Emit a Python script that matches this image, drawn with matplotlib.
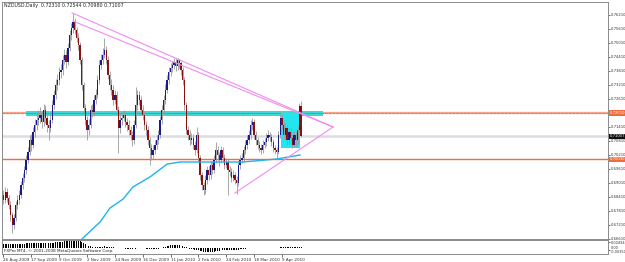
import matplotlib.pyplot as plt
from matplotlib.patches import Rectangle
from matplotlib.transforms import blended_transform_factory

# NZDUSD daily candles (bar index = trading day from 26 Aug 2009)
first_open = 0.6850
close = [0.6828, 0.6862, 0.6837, 0.6807, 0.6764, 0.6721, 0.6751, 0.6807, 0.6828, 0.6850,
         0.6892, 0.6922, 0.6957, 0.7000, 0.7034, 0.7085, 0.7064, 0.7120, 0.7150, 0.7171,
         0.7180, 0.7192, 0.7162, 0.7214, 0.7180, 0.7150, 0.7137, 0.7171, 0.7235, 0.7278,
         0.7321, 0.7342, 0.7377, 0.7385, 0.7428, 0.7450, 0.7420, 0.7480, 0.7535, 0.7565,
         0.7591, 0.7557, 0.7522, 0.7492, 0.7428, 0.7321, 0.7222, 0.7171, 0.7128, 0.7150,
         0.7214, 0.7205, 0.7257, 0.7278, 0.7342, 0.7407, 0.7428, 0.7450, 0.7471, 0.7428,
         0.7364, 0.7321, 0.7300, 0.7257, 0.7278, 0.7214, 0.7137, 0.7171, 0.7180, 0.7192,
         0.7162, 0.7150, 0.7128, 0.7107, 0.7085, 0.7150, 0.7235, 0.7278, 0.7257, 0.7214,
         0.7192, 0.7150, 0.7128, 0.7085, 0.7051, 0.7021, 0.7042, 0.7064, 0.7085, 0.7107,
         0.7171, 0.7214, 0.7257, 0.7300, 0.7342, 0.7377, 0.7394, 0.7407, 0.7420, 0.7402,
         0.7428, 0.7415, 0.7385, 0.7342, 0.7235, 0.7128, 0.7107, 0.7085, 0.7094, 0.7064,
         0.7042, 0.7107, 0.7008, 0.6935, 0.6892, 0.6871, 0.6914, 0.6957, 0.6935, 0.6978,
         0.6957, 0.7000, 0.7042, 0.7021, 0.7000, 0.7042, 0.7008, 0.6978, 0.6991, 0.6957,
         0.6948, 0.6922, 0.6935, 0.6914, 0.6901, 0.6978, 0.7000, 0.7008, 0.7042, 0.7064,
         0.7085, 0.7107, 0.7150, 0.7162, 0.7107, 0.7085, 0.7064, 0.7051, 0.7042, 0.7064,
         0.7077, 0.7094, 0.7107, 0.7098, 0.7077, 0.7051, 0.7042, 0.7034, 0.7107, 0.7180,
         0.7150, 0.7107, 0.7137, 0.7085, 0.7120, 0.7094, 0.7064, 0.7107, 0.7085, 0.7128,
         0.7231, 0.71007]
high = [0.6872, 0.6885, 0.6880, 0.6850, 0.6822, 0.6775, 0.6770, 0.6825, 0.6850, 0.6872,
        0.6910, 0.6945, 0.6975, 0.7020, 0.7055, 0.7105, 0.7110, 0.7140, 0.7175, 0.7195,
        0.7215, 0.7225, 0.7210, 0.7240, 0.7235, 0.7200, 0.7170, 0.7195, 0.7255, 0.7300,
        0.7345, 0.7370, 0.7400, 0.7410, 0.7450, 0.7475, 0.7470, 0.7500, 0.7555, 0.7585,
        0.7630, 0.7610, 0.7570, 0.7545, 0.7505, 0.7440, 0.7335, 0.7240, 0.7190, 0.7175,
        0.7235, 0.7240, 0.7280, 0.7305, 0.7365, 0.7430, 0.7455, 0.7480, 0.7522, 0.7490,
        0.7445, 0.7380, 0.7345, 0.7320, 0.7300, 0.7295, 0.7230, 0.7195, 0.7205, 0.7215,
        0.7210, 0.7180, 0.7170, 0.7145, 0.7125, 0.7170, 0.7312, 0.7300, 0.7295, 0.7275,
        0.7235, 0.7210, 0.7165, 0.7145, 0.7100, 0.7070, 0.7065, 0.7085, 0.7105, 0.7130,
        0.7190, 0.7235, 0.7280, 0.7325, 0.7365, 0.7400, 0.7415, 0.7425, 0.7435, 0.7437,
        0.7435, 0.7432, 0.7425, 0.7400, 0.7355, 0.7250, 0.7145, 0.7130, 0.7115, 0.7110,
        0.7080, 0.7141, 0.7120, 0.7020, 0.6950, 0.6905, 0.6935, 0.6975, 0.6972, 0.6995,
        0.6995, 0.7020, 0.7077, 0.7060, 0.7035, 0.7060, 0.7055, 0.7025, 0.7010, 0.7005,
        0.6975, 0.6965, 0.6955, 0.6950, 0.6930, 0.6995, 0.7020, 0.7030, 0.7060, 0.7085,
        0.7105, 0.7130, 0.7170, 0.7180, 0.7175, 0.7125, 0.7100, 0.7080, 0.7070, 0.7085,
        0.7095, 0.7115, 0.7128, 0.7120, 0.7110, 0.7090, 0.7065, 0.7055, 0.7125, 0.7201,
        0.7195, 0.7165, 0.7160, 0.7150, 0.7140, 0.7135, 0.7110, 0.7125, 0.7120, 0.7145,
        0.7245, 0.72544]
low = [0.6810, 0.6815, 0.6820, 0.6790, 0.6740, 0.6687, 0.6705, 0.6740, 0.6790, 0.6810,
       0.6835, 0.6875, 0.6905, 0.6940, 0.6985, 0.7020, 0.7040, 0.7050, 0.7100, 0.7130,
       0.7150, 0.7160, 0.7135, 0.7145, 0.7160, 0.7120, 0.7085, 0.7120, 0.7160, 0.7220,
       0.7260, 0.7300, 0.7320, 0.7350, 0.7365, 0.7410, 0.7395, 0.7405, 0.7465, 0.7515,
       0.7545, 0.7540, 0.7505, 0.7470, 0.7410, 0.7300, 0.7200, 0.7150, 0.7085, 0.7105,
       0.7135, 0.7185, 0.7190, 0.7240, 0.7265, 0.7325, 0.7390, 0.7410, 0.7435, 0.7410,
       0.7345, 0.7300, 0.7280, 0.7235, 0.7240, 0.7195, 0.7030, 0.7115, 0.7150, 0.7165,
       0.7140, 0.7125, 0.7105, 0.7085, 0.7060, 0.7070, 0.7135, 0.7215, 0.7235, 0.7195,
       0.7170, 0.7130, 0.7105, 0.7065, 0.6978, 0.7000, 0.7005, 0.7025, 0.7045, 0.7070,
       0.7095, 0.7155, 0.7200, 0.7240, 0.7285, 0.7325, 0.7360, 0.7375, 0.7390, 0.7380,
       0.7385, 0.7395, 0.7365, 0.7320, 0.7215, 0.7110, 0.7085, 0.7065, 0.7070, 0.7045,
       0.7020, 0.7030, 0.6990, 0.6915, 0.6870, 0.6850, 0.6855, 0.6895, 0.6915, 0.6920,
       0.6940, 0.6945, 0.6985, 0.7000, 0.6975, 0.6985, 0.6990, 0.6960, 0.6965, 0.6850,
       0.6930, 0.6905, 0.6910, 0.6895, 0.6854, 0.6890, 0.6960, 0.6985, 0.6990, 0.7025,
       0.7045, 0.7070, 0.7090, 0.7130, 0.7090, 0.7065, 0.7045, 0.7035, 0.7025, 0.7030,
       0.7050, 0.7060, 0.7080, 0.7080, 0.7060, 0.7035, 0.7025, 0.7008, 0.7025, 0.7095,
       0.7130, 0.7090, 0.7085, 0.7065, 0.7070, 0.7075, 0.7051, 0.7055, 0.7060, 0.7070,
       0.7120, 0.70980]
open_ = [first_open] + close[:-1]

# moving average (blue) read at a few bars
ma_bar = [44.0, 45.1, 55.5, 61.2, 68.7, 74.4, 84.2, 94.0, 101.4, 112.9, 137.6, 157.2, 170.4]
ma_val = [0.6650, 0.6661, 0.6734, 0.6794, 0.6832, 0.6884, 0.6927, 0.6982, 0.6991, 0.6991,
          0.6991, 0.7004, 0.7021]

# MACD histogram, in 1e-4
macd = [30, 29, 28, 27, 25, 24, 24, 25, 26, 27, 28, 29, 30, 31, 32, 33, 33, 34, 35, 36,
        36, 37, 37, 37, 37, 36, 35, 35, 36, 37, 39, 40, 41, 43, 44, 45, 46, 47, 48, 49,
        50, 50, 49, 48, 46, 42, 35, 27, 19, 13, 9, 6, 5, 5, 6, 7, 8, 8, 9, 8,
        7, 5, 3, 2, 1, -1, -3, -4, -5, -5, -6, -7, -8, -9, -9, -8, -6, -4, -3, -3,
        -4, -5, -7, -8, -9, -10, -10, -9, -8, -6, -3, 0, 4, 8, 12, 15, 17, 19, 20, 20,
        19, 18, 16, 13, 8, 3, -2, -6, -9, -12, -14, -15, -18, -22, -27, -31, -33, -34, -34, -33,
        -31, -29, -26, -24, -22, -20, -19, -18, -18, -18, -18, -18, -17, -17, -17, -15, -12, -10, -8, -6,
        -4, -2, 0, 1, 1, 1, 0, 0, 0, 0, 0, 1, 1, 1, 0, 0, 0, -1, 0, 2,
        3, 3, 3, 3, 3, 3, 2, 2, 2, 2, 4, 3]

# drawn objects
trend_upper_a = [(39.4, 0.7630), (189.4, 0.7141)]
trend_upper_b = [(39.9, 0.7595), (189.4, 0.7141)]
trend_lower = [(133.0, 0.6858), (189.4, 0.7141)]
zone_bars = (12.9, 183.6)
zone_prices = (0.7190, 0.7210)
box_bars = (159.5, 170.5)
box_prices = (0.7051, 0.7201)
resist_level = 0.7201
support_level = 0.7003
last_price = 0.71007

date_ticks = [0, 16, 32, 48, 64, 80, 96, 112, 128, 144, 160]
date_labels = ['26 Aug 2009', '17 Sep 2009', '9 Oct 2009', '2 Nov 2009', '24 Nov 2009',
               '16 Dec 2009', '11 Jan 2010', '2 Feb 2010', '24 Feb 2010', '18 Mar 2010',
               '9 Apr 2010']
price_ticks = [0.7621, 0.7561, 0.7501, 0.7441, 0.7381, 0.7321, 0.7261, 0.7141,
               0.7081, 0.7021, 0.6961, 0.6901, 0.6841, 0.6781, 0.6721, 0.6661]

fig = plt.figure(figsize=(6.25, 2.62), dpi=100)
ax = fig.add_axes([2 / 625, 23 / 262, 606 / 625, 237 / 262])
ax2 = fig.add_axes([2 / 625, 8 / 262, 606 / 625, 14 / 262])
xlim = (-0.86, 347.4)

bars = list(range(len(close)))
ax.vlines(bars, low, high, color='#9a9a9a', lw=0.6, zorder=3)
up_col = ['#1a1a8c' if c >= o else '#8b1010' for o, c in zip(open_, close)]
ax.bar(bars, [c - o for o, c in zip(open_, close)], bottom=open_, width=0.75,
       color=up_col, linewidth=0, zorder=4)

ax.plot(ma_bar, ma_val, color='#1eb4f0', lw=1.0, zorder=5)

# levels
ax.axhline(resist_level, color='#f7a58a', lw=1.6, zorder=1)
ax.axhline(resist_level, color='#f06a3c', lw=0.6, ls=(0, (3, 1.5)), zorder=1)
ax.axhline(support_level, color='#f26b3a', lw=1.0, zorder=1)
ax.axhline(last_price, color='#dcdce4', lw=1.8, zorder=1)

ax.add_patch(Rectangle((zone_bars[0], zone_prices[0]), zone_bars[1] - zone_bars[0],
                       zone_prices[1] - zone_prices[0], facecolor='#3fd6d6',
                       edgecolor='none', zorder=2))
ax.plot(zone_bars, [resist_level, resist_level], color='#2aa8a8', lw=0.5, zorder=2)
ax.add_patch(Rectangle((box_bars[0], box_prices[0]), box_bars[1] - box_bars[0],
                       box_prices[1] - box_prices[0], facecolor='#22e5f0',
                       edgecolor='none', zorder=2))

for line in (trend_upper_a, trend_upper_b, trend_lower):
    ax.plot([p[0] for p in line], [p[1] for p in line], color='#f08cf0', lw=0.8, zorder=6)

ax.set_xlim(*xlim)
ax.set_ylim(0.6661, 0.76767)
ax.set_xticks([])
ax.yaxis.tick_right()
ax.set_yticks(price_ticks)
ax.set_yticklabels(['%.5f' % p for p in price_ticks])
ax.tick_params(axis='y', labelsize=2.7, length=1.5, width=0.5, pad=0.4, colors='#333333')
for s in ax.spines.values():
    s.set_color('#8a8a8a')
    s.set_linewidth(0.7)

tr = blended_transform_factory(ax.transAxes, ax.transData)
for val, txt, bg in [(resist_level, '0.72010', '#f26b3a'), (support_level, '0.70030', '#f26b3a'),
                     (last_price, '0.71007', '#111111')]:
    ax.text(1.003, val, txt, transform=tr, fontsize=2.7, color='white', va='center', ha='left',
            bbox=dict(boxstyle='square,pad=0.15', fc=bg, ec='none'), zorder=10, clip_on=False)

ax.text(0.003, 0.995, 'NZDUSD,Daily  0.72310 0.72544 0.70980 0.71007', transform=ax.transAxes,
        fontsize=3.4, va='top', ha='left', color='#222222')

# indicator window
ax2.bar(bars, [m * 1e-4 for m in macd], width=0.55, color='black', linewidth=0)
ax2.set_xlim(*xlim)
ax2.set_ylim(-0.0045, 0.0055)
ax2.yaxis.tick_right()
ax2.set_yticks([0.0038, -0.0015])
ax2.set_yticklabels(['0.00494', '0.00\n-0.00350'], linespacing=0.8)
ax2.tick_params(axis='y', labelsize=2.5, length=1.5, width=0.5, pad=0.4, colors='#333333')
ax2.set_xticks(date_ticks)
ax2.set_xticklabels(date_labels, ha='left')
ax2.tick_params(axis='x', labelsize=3.0, length=2, width=0.5, pad=1, colors='#333333')
for s in ax2.spines.values():
    s.set_color('#8a8a8a')
    s.set_linewidth(0.7)
ax2.text(0.003, 0.1, 'FXPro MT4, \u00a9 2001-2008 MetaQuotes Software Corp.',
         transform=ax2.transAxes, fontsize=3.0, va='bottom', ha='left', color='#222222')

fig.savefig('out.png', dpi=100)
